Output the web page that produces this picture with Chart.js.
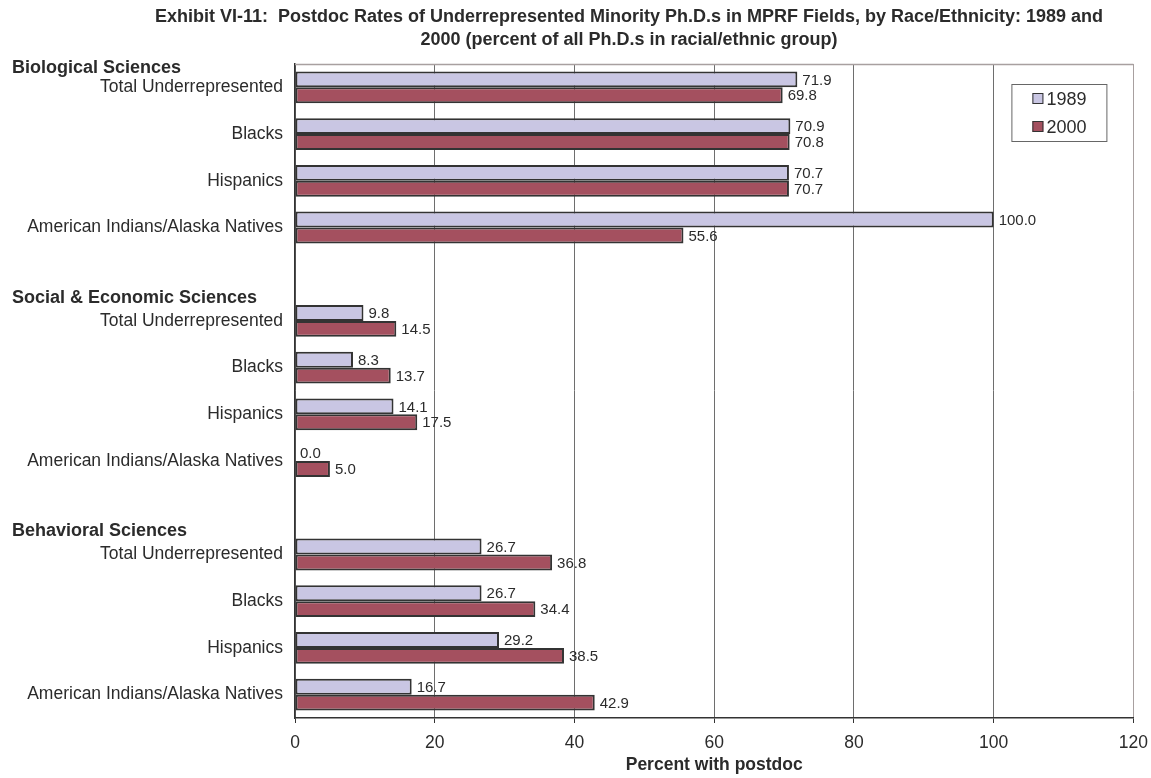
<!DOCTYPE html>
<html>
<head>
<meta charset="utf-8">
<title>Exhibit VI-11</title>
<script src="https://cdn.jsdelivr.net/npm/chart.js@4.4.1/dist/chart.umd.min.js"></script>
<style>
  html, body { margin: 0; padding: 0; background: #fff; }
  canvas { display: block; }
</style>
</head>
<body>
<canvas id="postdocChart" width="1151" height="778"></canvas>
<script>
// chart data
const titleLines = [
  "Exhibit VI-11:  Postdoc Rates of Underrepresented Minority Ph.D.s in MPRF Fields, by Race/Ethnicity: 1989 and",
  "2000 (percent of all Ph.D.s in racial/ethnic group)"
];
const groupNames = ["Biological Sciences", "Social & Economic Sciences", "Behavioral Sciences"];
const subgroupNames = ["Total Underrepresented", "Blacks", "Hispanics", "American Indians/Alaska Natives"];
const seriesNames = ["1989", "2000"];

const bio1989 = [71.9, 70.9, 70.7, 100.0];
const bio2000 = [69.8, 70.8, 70.7, 55.6];
const social1989 = [9.8, 8.3, 14.1, 0.0];
const social2000 = [14.5, 13.7, 17.5, 5.0];
const behav1989 = [26.7, 26.7, 29.2, 16.7];
const behav2000 = [36.8, 34.4, 38.5, 42.9];

const xTicks = [0, 20, 40, 60, 80, 100, 120];
const xTitle = "Percent with postdoc";

// build rows: each group gets its subgroups, with an empty row between groups
const groups1989 = [bio1989, social1989, behav1989];
const groups2000 = [bio2000, social2000, behav2000];
const rowLabels = [];
const rows1989 = [];
const rows2000 = [];
const groupStartRows = [];
groupNames.forEach((name, g) => {
  if (g > 0) {
    rowLabels.push("");
    rows1989.push(null);
    rows2000.push(null);
  }
  groupStartRows.push(rowLabels.length);
  subgroupNames.forEach((sub, i) => {
    rowLabels.push(sub);
    rows1989.push(groups1989[g][i]);
    rows2000.push(groups2000[g][i]);
  });
});

const textColor = "#2b2b2b";
const fillColors = ["#c9c6e3", "#a4505f"];
const font = "'Liberation Sans', Arial, Helvetica, sans-serif";

// title drawn by hand so it can sit off-centre like the original
const titlePlugin = {
  id: "exhibitTitle",
  afterDraw(chart) {
    const ctx = chart.ctx;
    ctx.save();
    ctx.fillStyle = textColor;
    ctx.font = "bold 18px " + font;
    ctx.textAlign = "center";
    ctx.textBaseline = "middle";
    titleLines.forEach((line, i) => ctx.fillText(line, 629, 17 + i * 23));
    ctx.restore();
  },
};

// bold group headings in the label column
const groupHeaderPlugin = {
  id: "groupHeaders",
  afterDraw(chart) {
    const ctx = chart.ctx;
    const yScale = chart.scales.y;
    ctx.save();
    ctx.fillStyle = textColor;
    ctx.font = "bold 18px " + font;
    ctx.textAlign = "left";
    ctx.textBaseline = "middle";
    groupNames.forEach((name, g) => {
      const y = yScale.getPixelForValue(groupStartRows[g]);
      ctx.fillText(name, 12, g === 0 ? y - 19 : y - 23);
    });
    ctx.restore();
  },
};

// value labels at the end of each bar
const valueLabelPlugin = {
  id: "valueLabels",
  afterDatasetsDraw(chart) {
    const ctx = chart.ctx;
    ctx.save();
    ctx.fillStyle = textColor;
    ctx.font = "15px " + font;
    ctx.textAlign = "left";
    ctx.textBaseline = "middle";
    chart.data.datasets.forEach((ds, d) => {
      chart.getDatasetMeta(d).data.forEach((bar, i) => {
        const v = ds.data[i];
        if (v === null || v === undefined) return;
        ctx.fillText(v.toFixed(1), bar.x + 5, bar.y + 1);
      });
    });
    ctx.restore();
  },
};

// plot frame (top edge) and the boxed legend inside the plot
const frameLegendPlugin = {
  id: "frameLegend",
  beforeDatasetsDraw(chart) {
    const { ctx, chartArea } = chart;
    ctx.save();
    ctx.strokeStyle = "#a8a0a0";
    ctx.lineWidth = 1.5;
    ctx.beginPath();
    ctx.moveTo(chartArea.left, chartArea.top + 0.5);
    ctx.lineTo(chartArea.right, chartArea.top + 0.5);
    ctx.stroke();
    ctx.restore();
  },
  afterDraw(chart) {
    const { ctx, chartArea } = chart;
    const boxX = chartArea.right - 122;
    const boxY = chartArea.top + 20;
    ctx.save();
    ctx.fillStyle = "#fff";
    ctx.fillRect(boxX, boxY, 95, 57);
    ctx.strokeStyle = "#666";
    ctx.lineWidth = 1;
    ctx.strokeRect(boxX + 0.5, boxY + 0.5, 95, 57);
    ctx.font = "18px " + font;
    ctx.textBaseline = "middle";
    ctx.textAlign = "left";
    seriesNames.forEach((name, i) => {
      const y = boxY + 15 + i * 28;
      ctx.fillStyle = fillColors[i];
      ctx.fillRect(boxX + 21, y - 6, 11, 11);
      ctx.strokeStyle = "#333";
      ctx.strokeRect(boxX + 21.5, y - 5.5, 10, 10);
      ctx.fillStyle = textColor;
      ctx.fillText(name, boxX + 35, y + 1);
    });
    ctx.restore();
  },
};

document.addEventListener("DOMContentLoaded", function () {
  const ctx = document.getElementById("postdocChart").getContext("2d");
  new Chart(ctx, {
    type: "bar",
    data: {
      labels: rowLabels,
      datasets: [
        {
          label: seriesNames[0],
          data: rows1989,
          backgroundColor: fillColors[0],
          borderColor: "#333",
          borderWidth: 2,
          borderSkipped: false,
        },
        {
          label: seriesNames[1],
          data: rows2000,
          backgroundColor: fillColors[1],
          borderColor: "#333",
          borderWidth: 2,
          borderSkipped: false,
        },
      ],
    },
    options: {
      indexAxis: "y",
      responsive: false,
      animation: false,
      devicePixelRatio: 1,
      categoryPercentage: 0.68,
      barPercentage: 1.0,
      layout: {
        padding: { top: 64, right: 0, bottom: 0, left: 0 },
      },
      plugins: {
        legend: { display: false },
        title: { display: false },
        tooltip: { enabled: false },
      },
      scales: {
        x: {
          type: "linear",
          min: xTicks[0],
          max: xTicks[xTicks.length - 1],
          afterBuildTicks: (scale) => {
            scale.ticks = xTicks.map((v) => ({ value: v }));
          },
          afterFit: (scale) => {
            scale.height = 60;
          },
          grid: {
            color: (c) => (c.tick && c.tick.value === 120 ? "#a8a0a0" : "#6e6e6e"),
            lineWidth: 1,
            tickLength: 5,
            tickColor: "#333",
          },
          border: { display: true, color: "#333", width: 1.5 },
          ticks: {
            color: textColor,
            font: { family: font, size: 17.5, lineHeight: 2 },
            padding: 3,
          },
          title: {
            display: true,
            text: xTitle,
            color: textColor,
            font: { family: font, size: 17.5, weight: "bold" },
            padding: { top: 0, bottom: 2 },
          },
        },
        y: {
          afterFit: (scale) => {
            scale.width = 295;
          },
          grid: { display: false, drawTicks: false },
          border: { display: true, color: "#333", width: 1.5 },
          ticks: {
            autoSkip: false,
            color: textColor,
            font: { family: font, size: 17.5 },
            padding: 12,
          },
        },
      },
    },
    plugins: [titlePlugin, groupHeaderPlugin, valueLabelPlugin, frameLegendPlugin],
  });
});
</script>
</body>
</html>
